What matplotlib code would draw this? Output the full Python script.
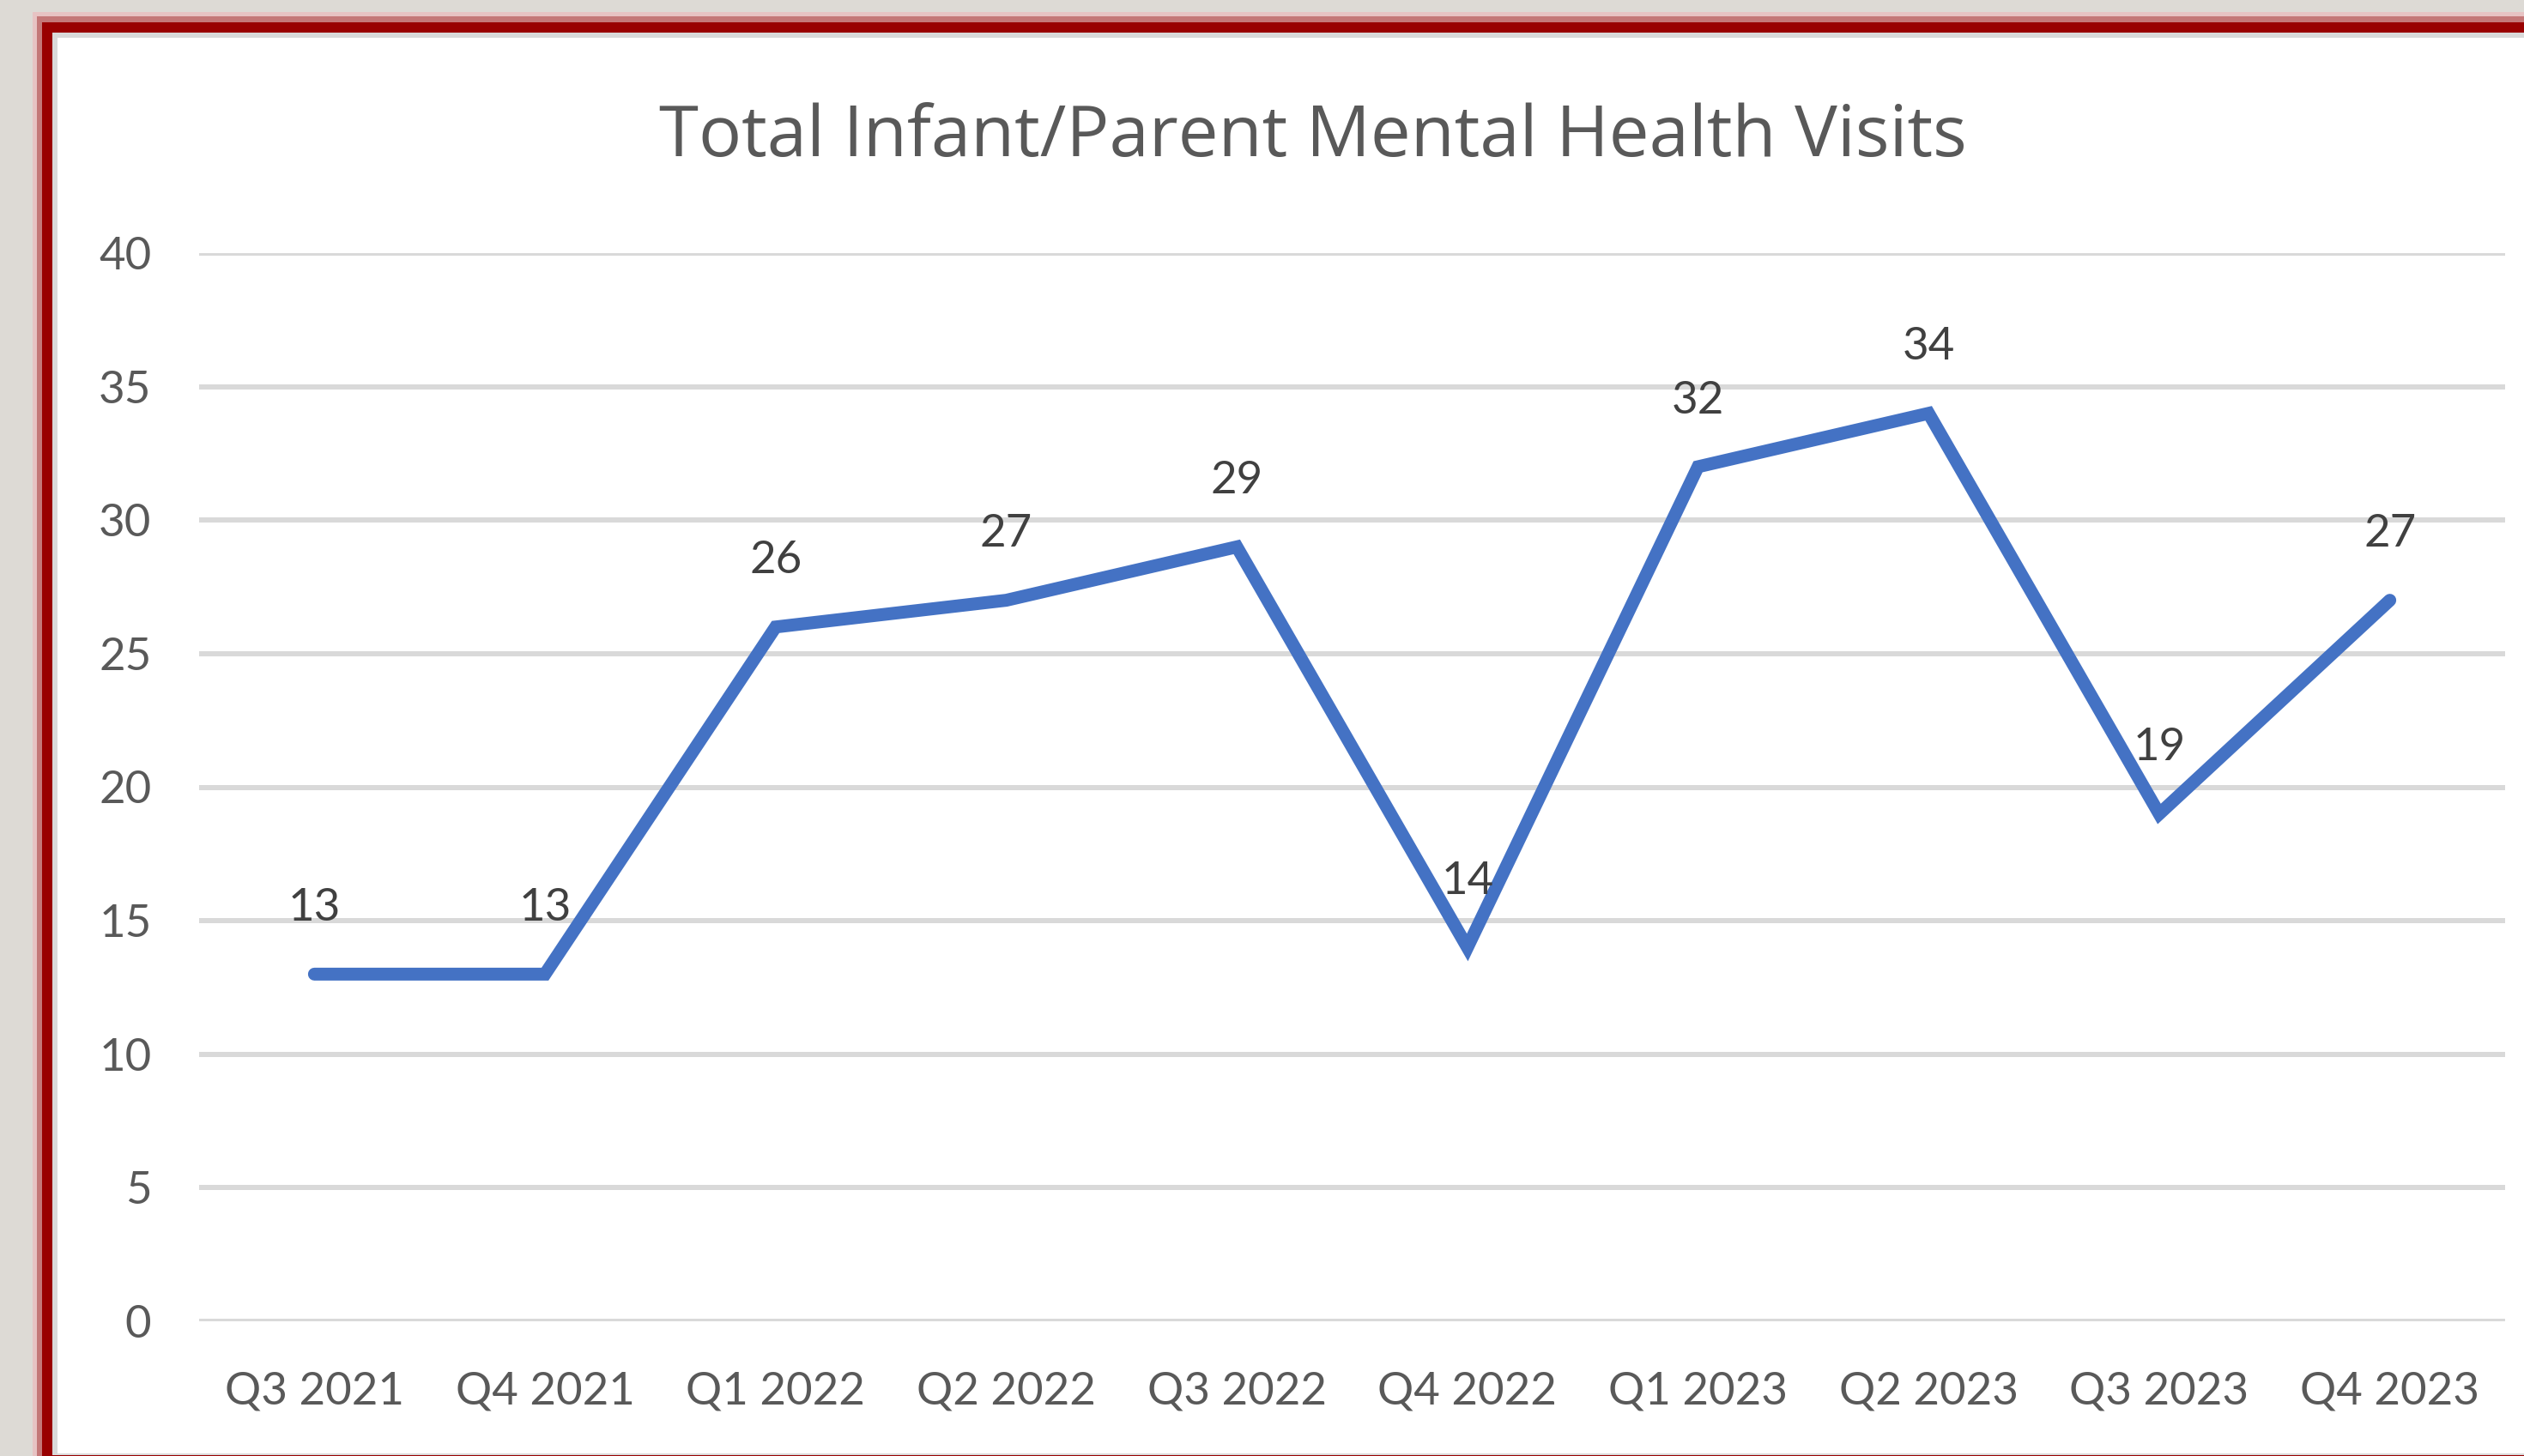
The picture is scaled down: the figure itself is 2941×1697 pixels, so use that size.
import matplotlib
matplotlib.use("Agg")
import matplotlib.pyplot as plt
from matplotlib.patches import Rectangle

categories = ["Q3 2021", "Q4 2021", "Q1 2022", "Q2 2022", "Q3 2022",
              "Q4 2022", "Q1 2023", "Q2 2023", "Q3 2023", "Q4 2023"]
visits = [13, 13, 26, 27, 29, 14, 32, 34, 19, 27]
y_ticks = [0, 5, 10, 15, 20, 25, 30, 35, 40]
title = "Total Infant/Parent Mental Health Visits"

W, H = 2941, 1697
DPI = 100
plt.rcParams['font.family'] = ['Lato', 'DejaVu Sans']

fig = plt.figure(figsize=(W / DPI, H / DPI), dpi=DPI, facecolor="#dddad5")

def frect(x0, y0, x1, y1, color, z, alpha=1.0):
    # pixel coords from top-left
    fig.patches.append(Rectangle((x0 / W, 1 - y1 / H), (x1 - x0) / W, (y1 - y0) / H,
                                 transform=fig.transFigure, facecolor=color,
                                 edgecolor="none", zorder=z, alpha=alpha))

frect(38, 14, W + 10, H + 10, "#e7c3c3", -5)
frect(43, 19, W + 10, H + 10, "#c47878", -4)
frect(49, 26, W + 10, H + 10, "#990000", -3)
frect(61, 38, W + 10, H - 1, "#d9d9d9", -2)
frect(67, 44, W + 10, H - 3, "#ffffff", -1)

ax_l, ax_r, ax_t, ax_b = 232, 2919, 295, 1540
ax = fig.add_axes([ax_l / W, 1 - ax_b / H, (ax_r - ax_l) / W, (ax_b - ax_t) / H])
ax.set_facecolor("none")

x = list(range(len(categories)))
ax.plot(x, visits, color="#4472C4", linewidth=10.8, solid_joinstyle="miter",
        solid_capstyle="round", zorder=3)

for xi, v in zip(x, visits):
    ax.annotate(str(v), (xi, v), xytext=(0, 45), textcoords="offset points",
                ha="center", va="baseline", fontsize=38, color="#404040", zorder=4)

ax.set_xlim(-0.5, len(categories) - 0.5)
ax.set_ylim(0, 40)
ax.set_yticks(y_ticks)
ax.set_xticks(x)
ax.set_xticklabels(categories)
ax.tick_params(axis="both", length=0, labelsize=38, labelcolor="#595959")
ax.tick_params(axis="y", pad=40)
ax.tick_params(axis="x", pad=42)
ax.grid(axis="y", color="#d9d9d9", linewidth=4.3, zorder=1)
ax.set_axisbelow(True)
for s in ax.spines.values():
    s.set_visible(False)

fig.text(1530 / W, 1 - 182 / H, title, ha="center", va="baseline",
         fontsize=60, color="#595959", family=["Open Sans", "DejaVu Sans"])

fig.savefig("out.png", dpi=DPI, facecolor=fig.get_facecolor())
